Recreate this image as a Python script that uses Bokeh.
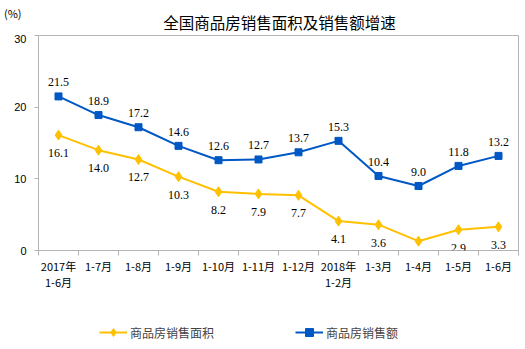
from bokeh.plotting import figure
from bokeh.layouts import column
from bokeh.models import (ColumnDataSource, FixedTicker, Legend, LegendItem, Label, LabelSet, Range1d)
from bokeh.embed import file_html
from bokeh.resources import INLINE

categories = ["2017年\n1-6月", "1-7月", "1-8月", "1-9月", "1-10月", "1-11月", "1-12月",
              "2018年\n1-2月", "1-3月", "1-4月", "1-5月", "1-6月"]
area_growth = [16.1, 14.0, 12.7, 10.3, 8.2, 7.9, 7.7, 4.1, 3.6, 1.3, 2.9, 3.3]
sales_growth = [21.5, 18.9, 17.2, 14.6, 12.6, 12.7, 13.7, 15.3, 10.4, 9.0, 11.8, 13.2]
y_ticks = [0, 10, 20, 30]
series_names = ["商品房销售面积", "商品房销售额"]
title_text = "全国商品房销售面积及销售额增速"
unit_text = "(%)"

YELLOW = "#FFC000"
BLUE = "#0058C4"
GRAY = "#B4B4B4"
NUM_FONT = "Liberation Sans"
CJK_FONT = "Noto Sans CJK SC"
W = 525
FL, FR = 36, 518  # frame left / right in page pixels (column aligns frames)

xs = [i + 0.5 for i in range(len(categories))]
src = ColumnDataSource(dict(
    x=xs, area=area_growth, sales=sales_growth,
    area_lbl=[f"{v:.1f}" for v in area_growth],
    sales_lbl=[f"{v:.1f}" for v in sales_growth],
))

# ---- header strip (title and unit) ----
top = figure(width=W, height=34, output_backend="svg", toolbar_location=None,
             x_range=Range1d(FL, FR), y_range=Range1d(34, 0), min_border=0,
             min_border_left=FL, outline_line_color=None)
top.xaxis.visible = False
top.grid.visible = False
ua = top.yaxis[0]
ua.ticker = FixedTicker(ticks=[12])
ua.major_label_overrides = {12: unit_text}
ua.axis_line_color = None
ua.major_tick_line_color = None
ua.minor_tick_line_color = None
ua.major_label_standoff = 11
ua.major_label_text_font = CJK_FONT
ua.major_label_text_font_size = "11px"
ua.major_label_text_color = "#000000"
top.add_layout(Label(x=278, y=21, text=title_text, text_align="center", text_baseline="middle",
                     text_font=CJK_FONT, text_font_size="15.5px", text_color="#000000"))

# ---- main plot ----
p = figure(width=W, height=276, output_backend="svg", toolbar_location=None,
           x_range=Range1d(0, len(categories)), y_range=Range1d(0, 30),
           min_border_left=FL, min_border_right=W - FR, min_border_top=1, min_border_bottom=60)
p.background_fill_color = "white"
p.border_fill_color = "white"
p.outline_line_color = GRAY
p.outline_line_width = 1
p.grid.visible = False

xa = p.xaxis[0]
xa.ticker = FixedTicker(ticks=xs, minor_ticks=list(range(len(categories) + 1)))
xa.major_label_overrides = {x: c for x, c in zip(xs, categories)}
xa.major_tick_line_color = None
xa.minor_tick_line_color = GRAY
xa.minor_tick_in = 0
xa.minor_tick_out = 5
xa.axis_line_color = GRAY
xa.major_label_text_font = CJK_FONT
xa.major_label_text_font_size = "11px"
xa.major_label_text_color = "#000000"
xa.major_label_text_line_height = 1.0
xa.major_label_standoff = 1

ya = p.yaxis[0]
ya.ticker = FixedTicker(ticks=y_ticks)
ya.minor_tick_line_color = None
ya.major_tick_line_color = GRAY
ya.major_tick_in = 0
ya.major_tick_out = 4
ya.axis_line_color = GRAY
ya.major_label_text_font = NUM_FONT
ya.major_label_text_font_size = "11px"
ya.major_label_text_color = "#000000"
ya.major_label_standoff = 8

l1 = p.line("x", "area", source=src, color=YELLOW, line_width=2)
m1 = p.scatter("x", "area", source=src, marker="diamond", size=10, color=YELLOW)
l2 = p.line("x", "sales", source=src, color=BLUE, line_width=2)
m2 = p.scatter("x", "sales", source=src, marker="square", size=7, color=BLUE)

p.add_layout(LabelSet(x="x", y="area", text="area_lbl", source=src, text_align="center",
                      text_baseline="middle", y_offset=-18, text_font=NUM_FONT,
                      text_font_size="12px", text_color="#000000"))
p.add_layout(LabelSet(x="x", y="sales", text="sales_lbl", source=src, text_align="center",
                      text_baseline="middle", y_offset=14, text_font=NUM_FONT,
                      text_font_size="12px", text_color="#000000"))

# ---- legend strip ----
lg = figure(width=W, height=39, output_backend="svg", toolbar_location=None,
            x_range=Range1d(100, 101), y_range=Range1d(100, 101),
            min_border=0, outline_line_color=None)
lg.axis.visible = False
lg.grid.visible = False
g1 = lg.line("x", "area", source=src, color=YELLOW, line_width=2)
g1m = lg.scatter("x", "area", source=src, marker="diamond", size=10, color=YELLOW)
g2 = lg.line("x", "sales", source=src, color=BLUE, line_width=2)
g2m = lg.scatter("x", "sales", source=src, marker="square", size=7, color=BLUE)
legend = Legend(items=[LegendItem(label=series_names[0], renderers=[g1, g1m]),
                       LegendItem(label=series_names[1], renderers=[g2, g2m])],
                orientation="horizontal", location=(97 - FL, 7), spacing=81,
                glyph_width=28, label_text_font=CJK_FONT, label_text_font_size="12px",
                border_line_color=None, background_fill_alpha=0, margin=0, padding=0,
                label_standoff=3)
lg.add_layout(legend, "center")

layout = column(top, p, lg, spacing=0)
open("out.html", "w").write(file_html(layout, INLINE))
